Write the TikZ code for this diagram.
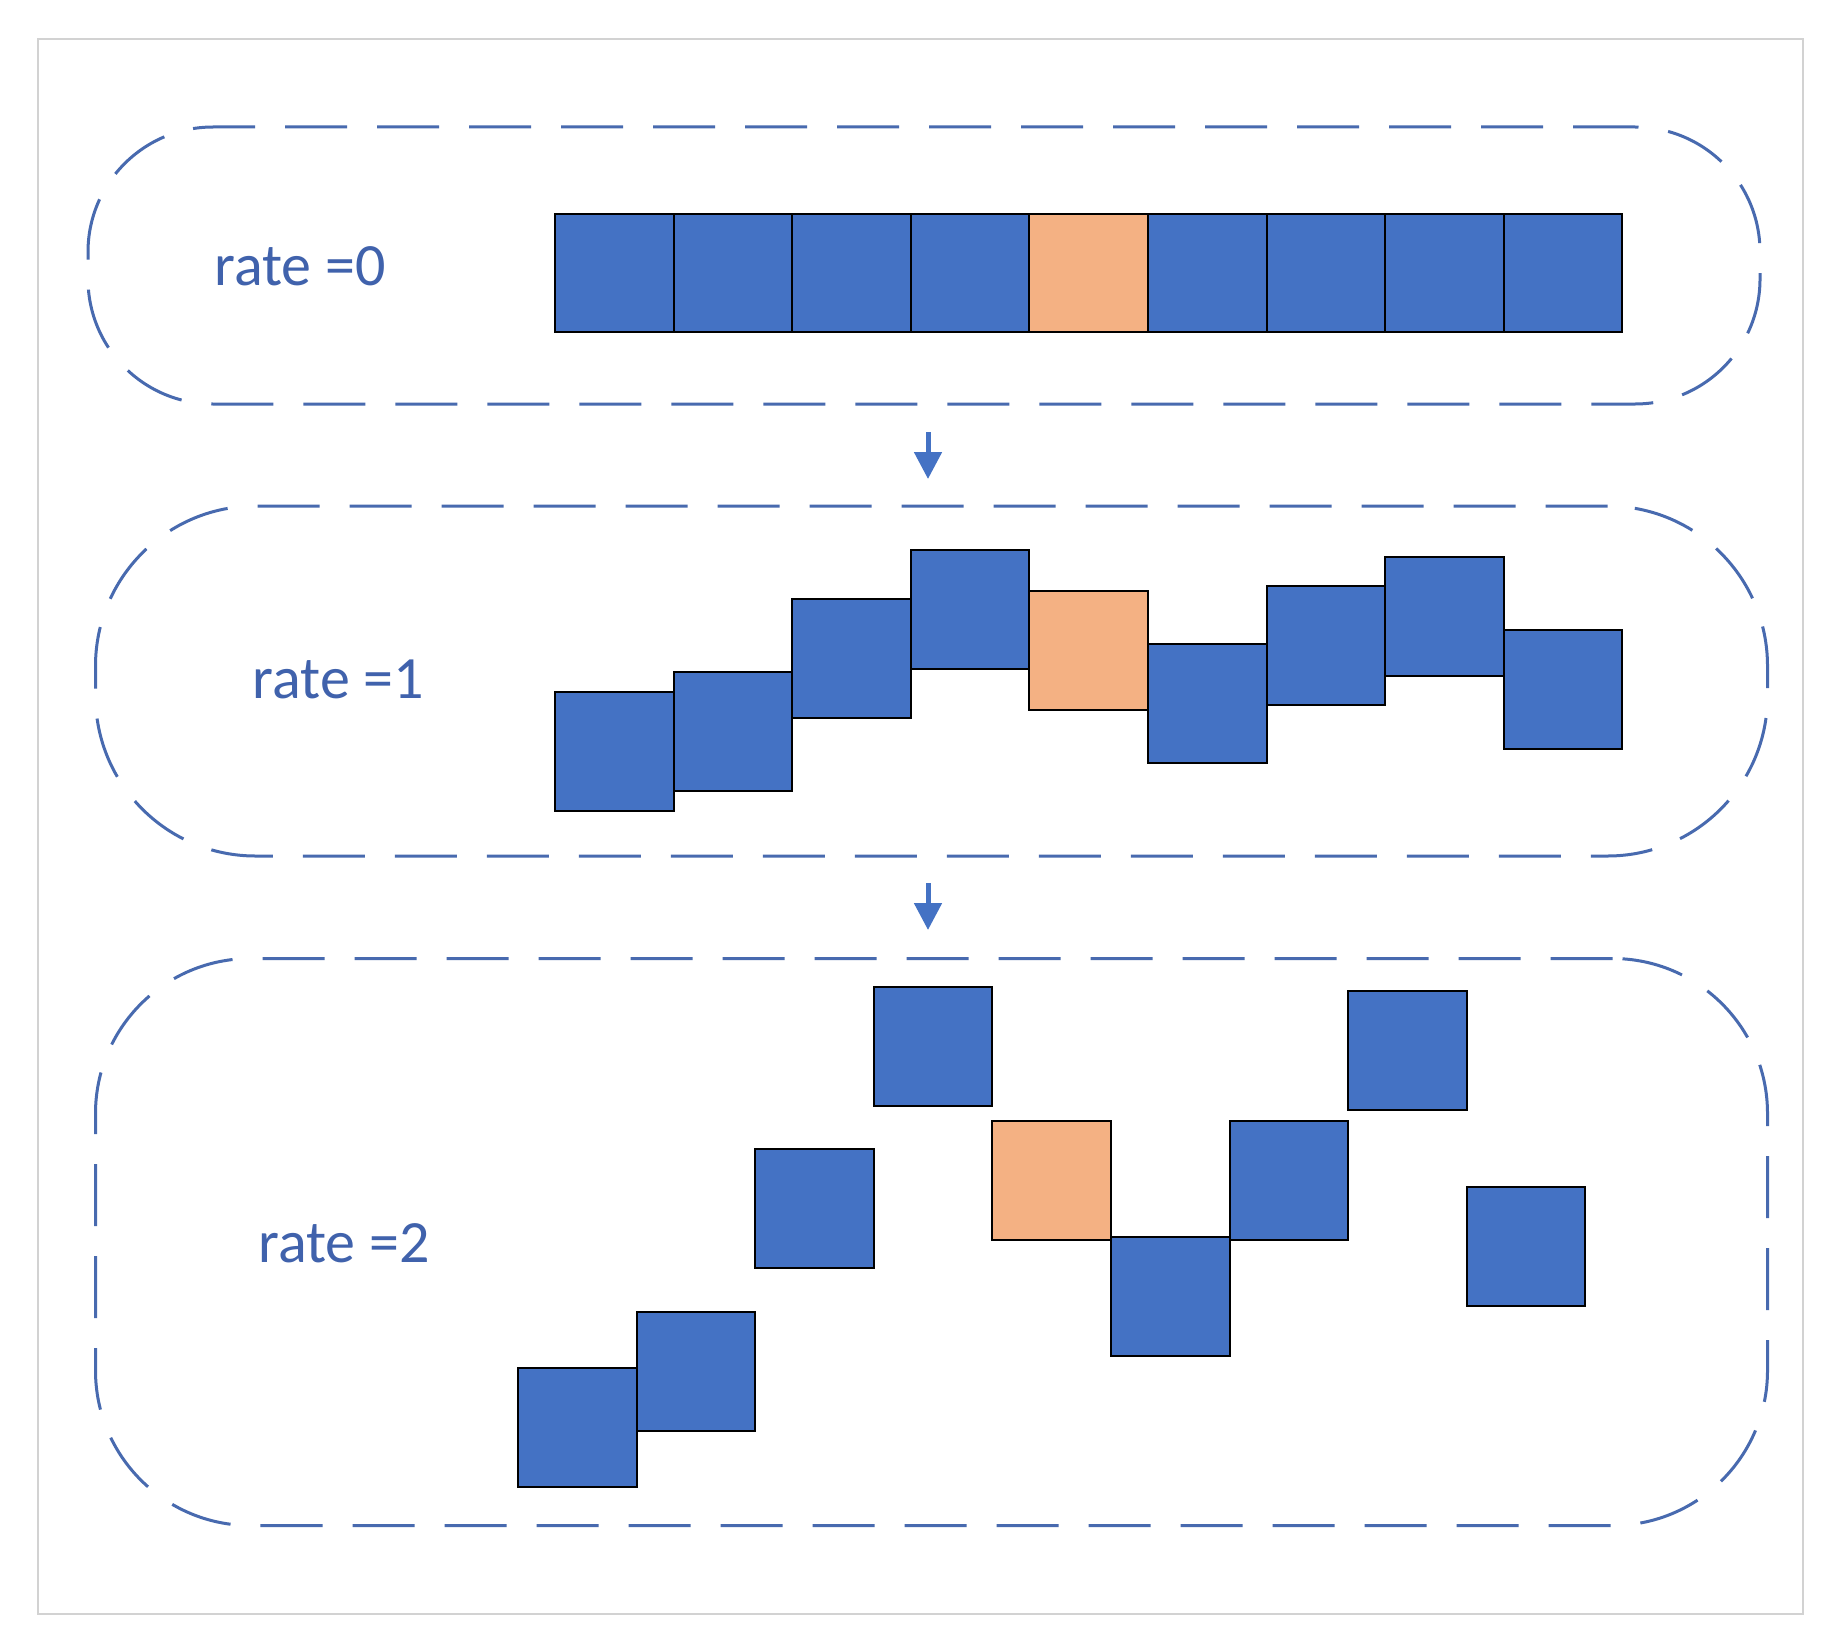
\documentclass[tikz,border=0pt]{standalone}
\usepackage{fontspec}
\setmainfont{Carlito}
\usetikzlibrary{arrows.meta}
\definecolor{boxblue}{RGB}{68,114,196}
\definecolor{boxorange}{RGB}{244,177,131}
\definecolor{bandblue}{RGB}{72,106,175}
\definecolor{txtblue}{RGB}{64,98,172}
\definecolor{framegray}{RGB}{210,210,210}
\begin{document}
\begin{tikzpicture}[x=1pt,y=-1pt,
  cell/.style={draw=black, line width=2pt, fill=boxblue, minimum size=118.6pt, inner sep=0pt, outer sep=0pt},
  hot/.style={cell, fill=boxorange},
  band/.style={draw=bandblue, line width=3pt, dash pattern=on 62pt off 30pt, inner sep=0pt, outer sep=0pt},
  lbl/.style={text=txtblue, font=\fontsize{60}{72}\selectfont, inner sep=0pt},
  flow/.style={draw=boxblue, line width=5pt, -{Triangle[width=27pt,length=27pt]}}]
\useasboundingbox (0,0) rectangle (1830,1651);
\fill[white] (0,0) rectangle (1830,1651);
\node[draw=framegray, line width=2.5pt, minimum width=1765pt, minimum height=1575pt, inner sep=0pt] (frame) at (920.5,826.5) {};
% bands
\node[band, rounded corners=125pt, minimum width=1672pt, minimum height=277pt] (band1) at (924,265.5) {};
\node[band, rounded corners=160pt, minimum width=1672pt, minimum height=350pt] (band2) at (931.5,681) {};
\node[band, rounded corners=155pt, minimum width=1672pt, minimum height=567pt] (band3) at (931.5,1242) {};
% labels
\node[lbl] (l0) at (300,266.5) {rate =0};
\node[lbl] (l1) at (338.5,679) {rate =1};
\node[lbl] (l2) at (344,1243) {rate =2};
% row 1
\foreach \i in {0,...,8}{
  \ifnum\i=4
    \node[hot] (a\i) at ({555+59.3+118.6*\i},273) {};
  \else
    \node[cell] (a\i) at ({555+59.3+118.6*\i},273) {};
  \fi
}
% row 2
\foreach \i/\t in {0/692,1/672,2/599,3/550,4/591,5/644,6/586,7/557,8/630}{
  \ifnum\i=4
    \node[hot] (b\i) at ({555+59.3+118.6*\i},{\t+59.3}) {};
  \else
    \node[cell] (b\i) at ({555+59.3+118.6*\i},{\t+59.3}) {};
  \fi
}
% row 3
\foreach \i/\t in {0/1368,1/1312,2/1149,3/987,4/1121,5/1237,6/1121,7/991,8/1187}{
  \ifnum\i=4
    \node[hot] (c\i) at ({518+59.3+118.6*\i},{\t+59.3}) {};
  \else
    \node[cell] (c\i) at ({518+59.3+118.6*\i},{\t+59.3}) {};
  \fi
}
% arrows
\coordinate (s1) at (928,432);
\coordinate (e1) at (928,479);
\coordinate (s2) at (928,883);
\coordinate (e2) at (928,930);
\draw[flow] (s1) -- (e1);
\draw[flow] (s2) -- (e2);
\end{tikzpicture}
\end{document}
